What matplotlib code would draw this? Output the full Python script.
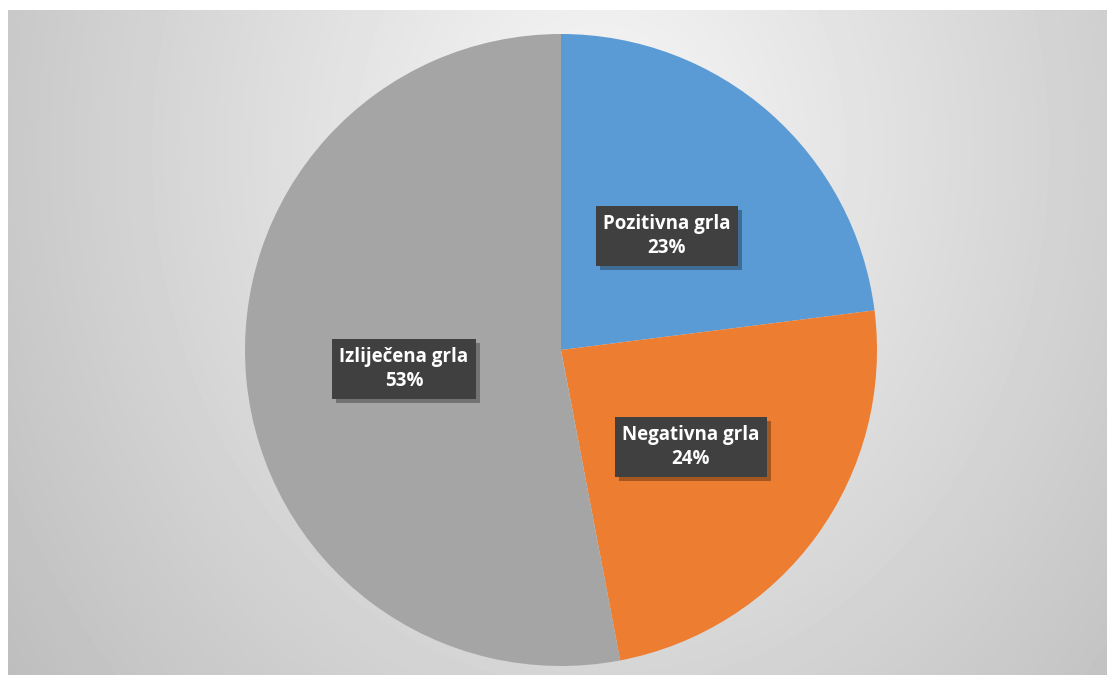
import matplotlib
matplotlib.use('Agg')
import numpy as np
import matplotlib.pyplot as plt
import matplotlib.patheffects as pe

labels = ['Pozitivna grla', 'Negativna grla', 'Izliječena grla']
shares = [23, 24, 53]
colors = ['#5B9BD5', '#ED7D31', '#A5A5A5']

W, H = 1107, 675
fig = plt.figure(figsize=(W / 100, H / 100), dpi=100)
fig.patch.set_facecolor('white')

# background: soft radial gradient, white in the middle, grey at the edges
yy, xx = np.mgrid[0:H, 0:W]
cx, cy = 600, 150
r = np.sqrt(((xx - cx) / 1.0) ** 2 + ((yy - cy) / 1.2) ** 2)
v = 0.97 - 0.2 * np.clip(r / 650, 0, 1.2)
v[:10, :] = 1.0
v[:, :8] = 1.0
fig.figimage(v, xo=0, yo=0, cmap='gray', vmin=0, vmax=1, origin='upper', zorder=-5)

# pie
R = 316
cxp, cyp = 561, 350
ax = fig.add_axes([(cxp - R) / W, 1 - (cyp + R) / H, 2 * R / W, 2 * R / H], zorder=2)
ax.axis('off')
ax.pie(shares, colors=colors, startangle=90, counterclock=False, radius=1,
       wedgeprops=dict(linewidth=0))
ax.set_xlim(-1, 1)
ax.set_ylim(-1, 1)

label_pos = [(667, 236), (691, 447), (404, 369)]
for lab, s, (px, py) in zip(labels, shares, label_pos):
    t = fig.text(px / W, 1 - py / H, '%s\n%d%%' % (lab, s), ha='center', va='center',
                 color='white', fontsize=13.5, fontweight='bold', family='Open Sans',
                 linespacing=1.3, zorder=5,
                 bbox=dict(boxstyle='square,pad=0.4', facecolor='#404040',
                           edgecolor='none'))
    t.get_bbox_patch().set_path_effects([
        pe.SimplePatchShadow(offset=(3, -3), shadow_rgbFace='black', alpha=0.3),
        pe.Normal()])

fig.savefig('out.png', dpi=100)
